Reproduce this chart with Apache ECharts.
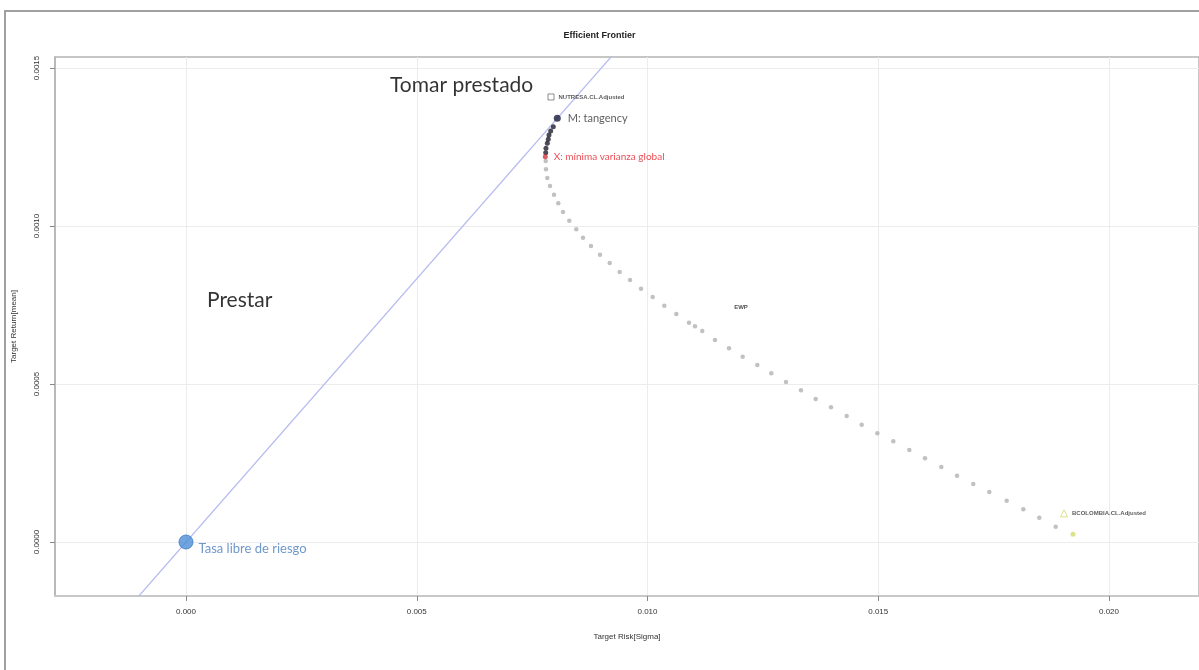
<!DOCTYPE html>
<html>
<head>
<meta charset="utf-8">
<script src="https://cdn.jsdelivr.net/npm/echarts@6/dist/echarts.min.js"></script>
<style>
html,body{margin:0;padding:0;background:#fff;}
#chart{width:1199px;height:670px;}
</style>
</head>
<body>
<div id="chart"></div>
<script>
// ---- data ----
const titleText = 'Efficient Frontier';
const xAxisTitle = 'Target Risk[Sigma]';
const yAxisTitle = 'Target Return[mean]';
const xTicks = [0.000, 0.005, 0.010, 0.015, 0.020];
const yTicks = [0.0000, 0.0005, 0.0010, 0.0015];

// inefficient (gray) frontier points
const grayRisk = [0.007794,0.007800,0.007829,0.007887,0.007974,0.008067,0.008169,0.008305,0.008457,0.008602,0.008776,0.008971,0.009181,0.009397,0.009621,0.009859,0.010112,0.010364,0.010624,0.010899,0.011029,0.011187,0.011462,0.011766,0.012063,0.012379,0.012682,0.013001,0.013326,0.013644,0.013976,0.014316,0.014641,0.014980,0.015326,0.015673,0.016013,0.016366,0.016706,0.017059,0.017406,0.017783,0.018143,0.018490,0.018845];
const grayReturn = [0.0012057,0.0011794,0.0011519,0.0011266,0.0010991,0.0010719,0.0010443,0.0010168,0.0009896,0.0009630,0.0009367,0.0009092,0.0008829,0.0008544,0.0008291,0.0008016,0.0007753,0.0007478,0.0007215,0.0006940,0.0006826,0.0006677,0.0006392,0.0006130,0.0005864,0.0005601,0.0005339,0.0005063,0.0004801,0.0004525,0.0004263,0.0003987,0.0003712,0.0003440,0.0003187,0.0002911,0.0002649,0.0002373,0.0002098,0.0001835,0.0001582,0.0001307,0.0001035,0.0000769,0.0000484];

// efficient (black) frontier points
const effRisk = [0.007794,0.007800,0.007829,0.007850,0.007865,0.007902,0.007959];
const effReturn = [0.0012320,0.0012459,0.0012617,0.0012744,0.0012880,0.0013007,0.0013143];

// special portfolios
const minVar = {risk: 0.007785, ret: 0.0012193, label: 'X: mínima varianza global'};
const tangency = {risk: 0.008045, ret: 0.0013408, label: 'M: tangency'};
const ewp = {risk: 0.012026, ret: 0.000744, label: 'EWP'};
const lastPoint = {risk: 0.019220, ret: 0.0000244};

// single assets
const assetNames = ['NUTRESA.CL.Adjusted', 'BCOLOMBIA.CL.Adjusted'];
const assetRisk = [0.007909, 0.019025];
const assetReturn = [0.0014083, 0.0000908];

// risk free + capital market line
const riskFree = {risk: 0.0, ret: 0.0, label: 'Tasa libre de riesgo'};
const cmlRisk = [-0.00110, 0.00930];
const cmlReturn = [-0.000184, 0.00155];

// annotations
const notes = ['Tomar prestado', 'Prestar'];
const noteRisk = [0.00442, 0.000455];
const noteReturn = [0.001446, 0.000766];

// ---- chart ----
const zip = (a, b) => a.map((v, i) => [v, b[i]]);
const labelFont = 'Liberation Sans';
const noteFont = 'Lato';

const chart = echarts.init(document.getElementById('chart'), null, {renderer: 'canvas'});

const option = {
  animation: false,
  backgroundColor: '#fff',
  title: {
    text: titleText, left: 'center', top: 26,
    textStyle: {fontFamily: labelFont, fontSize: 9, fontWeight: 'bold', color: '#222'}
  },
  graphic: [{
    type: 'rect', shape: {x: 5, y: 11, width: 1210, height: 680},
    style: {fill: null, stroke: '#a0a0a0', lineWidth: 2}, silent: true, z: 100
  }],
  grid: {
    left: 55, right: 0, top: 57, bottom: 74, containLabel: false,
    show: true, borderColor: '#b4b4b4', borderWidth: 1.5
  },
  xAxis: {
    type: 'value', min: -0.0028385, max: 0.021950,
    name: xAxisTitle, nameLocation: 'middle', nameGap: 37,
    nameTextStyle: {fontFamily: labelFont, fontSize: 8, color: '#333'},
    axisLine: {show: true, onZero: false, lineStyle: {color: '#c8c8c8', width: 2}},
    axisTick: {show: true, inside: false, length: 5, customValues: xTicks, lineStyle: {color: '#888'}},
    axisLabel: {customValues: xTicks, margin: 12, fontFamily: labelFont, fontSize: 8, color: '#333',
      formatter: v => v.toFixed(3)},
    splitLine: {show: true, lineStyle: {color: '#ececec', width: 1}}
  },
  yAxis: {
    type: 'value', min: -0.0001709, max: 0.0015348,
    name: yAxisTitle, nameLocation: 'middle', nameGap: 37, nameRotate: 90,
    nameTextStyle: {fontFamily: labelFont, fontSize: 8, color: '#333'},
    axisLine: {show: true, onZero: false, lineStyle: {color: '#b4b4b4', width: 1.5}},
    axisTick: {show: true, inside: false, length: 5, customValues: yTicks, lineStyle: {color: '#888'}},
    axisLabel: {customValues: yTicks, rotate: 90, margin: 14, fontFamily: labelFont, fontSize: 8, color: '#333',
      formatter: v => v.toFixed(4)},
    splitLine: {show: true, lineStyle: {color: '#ececec', width: 1}}
  },
  series: [
    {
      type: 'line', data: zip(cmlRisk, cmlReturn), symbol: 'none', clip: true,
      lineStyle: {color: '#b6bcf0', width: 1.3}, z: 2
    },
    {
      type: 'scatter', data: zip(grayRisk, grayReturn), symbolSize: 4.5,
      itemStyle: {color: '#b2b2b2'}, z: 3
    },
    {
      type: 'scatter', data: zip(effRisk, effReturn), symbolSize: 5,
      itemStyle: {color: '#1e1e2a'}, z: 4
    },
    {
      type: 'scatter', data: [[minVar.risk, minVar.ret]], symbolSize: 5,
      itemStyle: {color: '#d8343c'}, z: 5,
      label: {show: true, position: 'right', distance: 6, formatter: minVar.label,
        fontFamily: noteFont, fontSize: 10, color: '#e8202c'}
    },
    {
      type: 'scatter', data: [[tangency.risk, tangency.ret]], symbolSize: 7,
      itemStyle: {color: '#1c1c3c'}, z: 5,
      label: {show: true, position: 'right', distance: 7, formatter: tangency.label,
        fontFamily: noteFont, fontSize: 11, color: '#333'}
    },
    {
      type: 'scatter', data: [[ewp.risk, ewp.ret]], symbolSize: 0, z: 5,
      label: {show: true, position: 'inside', formatter: ewp.label,
        fontFamily: labelFont, fontSize: 6, fontWeight: 'bold', color: '#222'}
    },
    {
      type: 'scatter', data: [[assetRisk[0], assetReturn[0], assetNames[0]]], symbol: 'rect', symbolSize: 6,
      itemStyle: {color: '#fff', borderColor: '#707070', borderWidth: 1}, z: 5,
      label: {show: true, position: 'right', distance: 4, formatter: p => p.data[2],
        fontFamily: labelFont, fontSize: 6, fontWeight: 'bold', color: '#333'}
    },
    {
      type: 'scatter', data: [[assetRisk[1], assetReturn[1], assetNames[1]]], symbol: 'triangle', symbolSize: 7,
      itemStyle: {color: '#fff', borderColor: '#d8d870', borderWidth: 1}, z: 5,
      label: {show: true, position: 'right', distance: 4, formatter: p => p.data[2],
        fontFamily: labelFont, fontSize: 6, fontWeight: 'bold', color: '#333'}
    },
    {
      type: 'scatter', data: [[lastPoint.risk, lastPoint.ret]], symbolSize: 5,
      itemStyle: {color: '#d2dc6a'}, z: 5
    },
    {
      type: 'scatter', data: [[riskFree.risk, riskFree.ret]], symbolSize: 14,
      itemStyle: {color: '#4d8ed8', borderColor: '#3d78c0', borderWidth: 1}, z: 6,
      label: {show: true, position: 'right', distance: 5, offset: [0, 7], formatter: riskFree.label,
        fontFamily: noteFont, fontSize: 13, color: '#4a7ebb'}
    },
    {
      type: 'scatter', data: zip(noteRisk, noteReturn).map((d, i) => [d[0], d[1], notes[i]]), symbolSize: 0, z: 6,
      label: {show: true, position: 'right', distance: 0, formatter: p => p.data[2],
        fontFamily: noteFont, fontSize: 21, color: '#000'}
    }
  ]
};
chart.setOption(option);
</script>
</body>
</html>
